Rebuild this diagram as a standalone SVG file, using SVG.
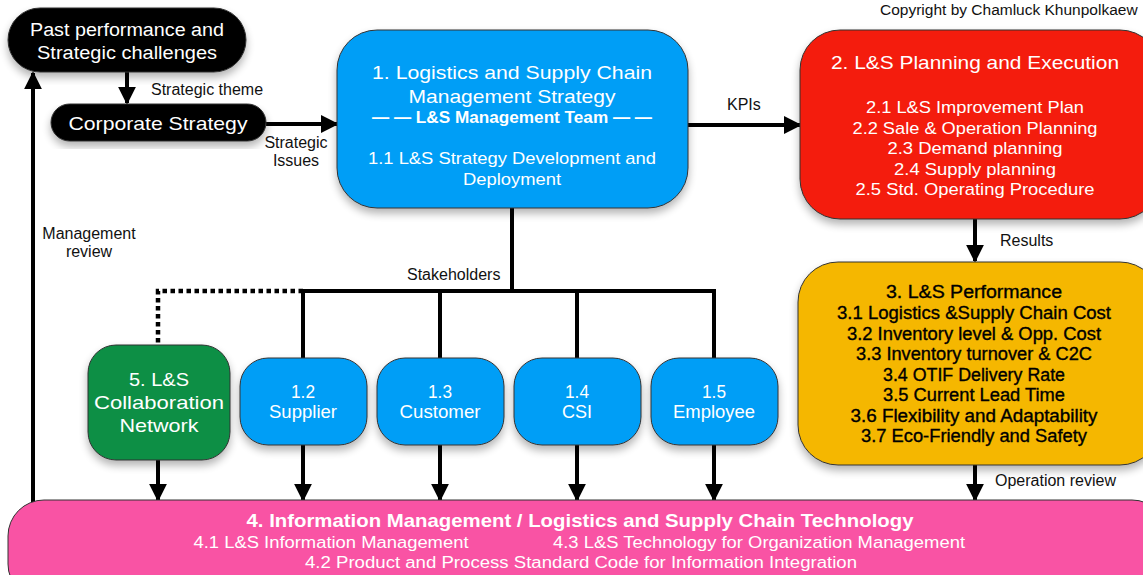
<svg xmlns="http://www.w3.org/2000/svg" width="1143" height="575" viewBox="0 0 1143 575">
<defs>
<filter id="sh" x="-10%" y="-10%" width="120%" height="130%">
<feGaussianBlur in="SourceAlpha" stdDeviation="4"/>
<feOffset dy="5"/>
<feComponentTransfer><feFuncA type="linear" slope="0.3"/></feComponentTransfer>
<feMerge><feMergeNode/><feMergeNode in="SourceGraphic"/></feMerge>
</filter>
<marker id="ah" viewBox="0 0 10 10" refX="9" refY="5" markerWidth="4.5" markerHeight="4.5" markerUnits="strokeWidth" orient="auto">
<path d="M0,0 L10,5 L0,10 Z" fill="#000"/>
</marker>
</defs>
<style>
text{font-family:"Liberation Sans",Arial,Helvetica,sans-serif;text-anchor:middle}
.w{fill:#fff}
.k{fill:#000;stroke:#000;stroke-width:0.35}
.lbl{font-size:16px;fill:#111;text-anchor:start}
.box{stroke:#333;stroke-width:1}
.ln{stroke:#000;stroke-width:4;fill:none}
.arr{stroke:#000;stroke-width:4;fill:none;marker-end:url(#ah)}
</style>
<rect width="1143" height="575" fill="#fff"/>
<text class="lbl" x="880" y="15" style="font-size:15.5px">Copyright by Chamluck Khunpolkaew</text>

<g id="connectors">
<line class="arr" x1="127" y1="72" x2="127" y2="103"/>
<line class="arr" x1="266" y1="124" x2="337" y2="124"/>
<line class="arr" x1="688" y1="125" x2="800" y2="125"/>
<line class="arr" x1="975" y1="219" x2="975" y2="261"/>
<line class="arr" x1="975" y1="465" x2="975" y2="500"/>
<line class="arr" x1="33" y1="502" x2="33" y2="73"/>
<polyline class="ln" points="512,208 512,291"/>
<polyline class="ln" points="301,291 716,291"/>
<polyline points="303,291 158,291 158,345" fill="none" stroke="#000" stroke-width="4.5" stroke-dasharray="4.5,3.5"/>
<line class="ln" x1="303" y1="291" x2="303" y2="358"/>
<line class="ln" x1="440" y1="291" x2="440" y2="358"/>
<line class="ln" x1="577" y1="291" x2="577" y2="358"/>
<line class="ln" x1="714" y1="291" x2="714" y2="358"/>
<line class="arr" x1="158" y1="460" x2="158" y2="500"/>
<line class="arr" x1="303" y1="445" x2="303" y2="500"/>
<line class="arr" x1="440" y1="445" x2="440" y2="500"/>
<line class="arr" x1="577" y1="445" x2="577" y2="500"/>
<line class="arr" x1="714" y1="445" x2="714" y2="500"/>
<text class="lbl" x="151" y="95">Strategic theme</text>
<text class="lbl" x="296" y="148" style="text-anchor:middle">Strategic</text>
<text class="lbl" x="296" y="166" style="text-anchor:middle">Issues</text>
<text class="lbl" x="727" y="110">KPIs</text>
<text class="lbl" x="1000" y="246">Results</text>
<text class="lbl" x="995" y="486">Operation review</text>
<text class="lbl" x="89" y="239" style="text-anchor:middle">Management</text>
<text class="lbl" x="89" y="257" style="text-anchor:middle">review</text>
<text class="lbl" x="407" y="280">Stakeholders</text>
</g>

<g id="past">
<rect class="box" x="8" y="8" width="238" height="64" rx="32" fill="#000" filter="url(#sh)"/>
<text class="w" x="127" y="36" font-size="18" textLength="194" lengthAdjust="spacingAndGlyphs">Past performance and</text>
<text class="w" x="127" y="59" font-size="18" textLength="180" lengthAdjust="spacingAndGlyphs">Strategic challenges</text>
</g>

<g id="corporate">
<rect class="box" x="51" y="104" width="215" height="37" rx="18.5" fill="#000" filter="url(#sh)"/>
<text class="w" x="158" y="130" font-size="19" textLength="179" lengthAdjust="spacingAndGlyphs">Corporate Strategy</text>
</g>

<g id="strategy">
<rect class="box" x="337" y="30" width="351" height="178" rx="40" fill="#059ef6" filter="url(#sh)"/>
<text class="w" x="512" y="79" font-size="19" textLength="280" lengthAdjust="spacingAndGlyphs">1. Logistics and Supply Chain</text>
<text class="w" x="512" y="103" font-size="19" textLength="207" lengthAdjust="spacingAndGlyphs">Management Strategy</text>
<text class="w" x="512" y="123" font-size="16" font-weight="bold" textLength="280" lengthAdjust="spacingAndGlyphs">— — L&amp;S Management Team — —</text>
<text class="w" x="512" y="164" font-size="17" textLength="288" lengthAdjust="spacingAndGlyphs">1.1 L&amp;S Strategy Development and</text>
<text class="w" x="512" y="185" font-size="17" textLength="98" lengthAdjust="spacingAndGlyphs">Deployment</text>
</g>

<g id="planning">
<rect class="box" x="800" y="30" width="360" height="189" rx="40" fill="#f41b07" filter="url(#sh)"/>
<text class="w" x="975" y="69" font-size="19" textLength="288" lengthAdjust="spacingAndGlyphs">2. L&amp;S Planning and Execution</text>
<text class="w" x="975" y="113" font-size="17" textLength="218" lengthAdjust="spacingAndGlyphs">2.1 L&amp;S Improvement Plan</text>
<text class="w" x="975" y="134" font-size="17" textLength="245" lengthAdjust="spacingAndGlyphs">2.2 Sale &amp; Operation Planning</text>
<text class="w" x="975" y="154" font-size="17" textLength="175" lengthAdjust="spacingAndGlyphs">2.3 Demand planning</text>
<text class="w" x="975" y="175" font-size="17" textLength="162" lengthAdjust="spacingAndGlyphs">2.4 Supply planning</text>
<text class="w" x="975" y="195" font-size="17" textLength="239" lengthAdjust="spacingAndGlyphs">2.5 Std. Operating Procedure</text>
</g>

<g id="performance">
<rect class="box" x="798" y="262" width="362" height="203" rx="40" fill="#f5b700" filter="url(#sh)"/>
<g class="k" font-size="17.5">
<text x="974" y="298" textLength="176" lengthAdjust="spacingAndGlyphs">3. L&amp;S Performance</text>
<text x="974" y="319" textLength="274" lengthAdjust="spacingAndGlyphs">3.1 Logistics &amp;Supply Chain Cost</text>
<text x="974" y="340" textLength="254" lengthAdjust="spacingAndGlyphs">3.2 Inventory level &amp; Opp. Cost</text>
<text x="974" y="360" textLength="236" lengthAdjust="spacingAndGlyphs">3.3 Inventory turnover &amp; C2C</text>
<text x="974" y="381" textLength="182" lengthAdjust="spacingAndGlyphs">3.4 OTIF Delivery Rate</text>
<text x="974" y="401" textLength="182" lengthAdjust="spacingAndGlyphs">3.5 Current Lead Time</text>
<text x="974" y="422" textLength="247" lengthAdjust="spacingAndGlyphs">3.6 Flexibility and Adaptability</text>
<text x="974" y="442" textLength="226" lengthAdjust="spacingAndGlyphs">3.7 Eco-Friendly and Safety</text>
</g>
</g>

<g id="collab">
<rect class="box" x="88" y="345" width="142" height="115" rx="28" fill="#078f45" filter="url(#sh)"/>
<text class="w" x="159" y="386" font-size="19" textLength="60" lengthAdjust="spacingAndGlyphs">5. L&amp;S</text>
<text class="w" x="159" y="409" font-size="19" textLength="130" lengthAdjust="spacingAndGlyphs">Collaboration</text>
<text class="w" x="159" y="432" font-size="19" textLength="79" lengthAdjust="spacingAndGlyphs">Network</text>
</g>

<g id="supplier">
<rect class="box" x="240" y="358" width="127" height="87" rx="28" fill="#059ef6" filter="url(#sh)"/>
<text class="w" x="303" y="398" font-size="17.5" textLength="24" lengthAdjust="spacingAndGlyphs">1.2</text>
<text class="w" x="303" y="418" font-size="17.5" textLength="68" lengthAdjust="spacingAndGlyphs">Supplier</text>
</g>
<g id="customer">
<rect class="box" x="377" y="358" width="127" height="87" rx="28" fill="#059ef6" filter="url(#sh)"/>
<text class="w" x="440" y="398" font-size="17.5" textLength="24" lengthAdjust="spacingAndGlyphs">1.3</text>
<text class="w" x="440" y="418" font-size="17.5" textLength="81" lengthAdjust="spacingAndGlyphs">Customer</text>
</g>
<g id="csi">
<rect class="box" x="514" y="358" width="127" height="87" rx="28" fill="#059ef6" filter="url(#sh)"/>
<text class="w" x="577" y="398" font-size="17.5" textLength="24" lengthAdjust="spacingAndGlyphs">1.4</text>
<text class="w" x="577" y="418" font-size="17.5" textLength="30" lengthAdjust="spacingAndGlyphs">CSI</text>
</g>
<g id="employee">
<rect class="box" x="651" y="358" width="127" height="87" rx="28" fill="#059ef6" filter="url(#sh)"/>
<text class="w" x="714" y="398" font-size="17.5" textLength="24" lengthAdjust="spacingAndGlyphs">1.5</text>
<text class="w" x="714" y="418" font-size="17.5" textLength="82" lengthAdjust="spacingAndGlyphs">Employee</text>
</g>

<g id="info">
<rect class="box" x="8" y="500" width="1160" height="100" rx="36" fill="#f953a4"/>
<text class="w" x="580" y="527" font-size="19" font-weight="bold" textLength="667" lengthAdjust="spacingAndGlyphs">4. Information Management / Logistics and Supply Chain Technology</text>
<text class="w" x="331" y="548" font-size="16" textLength="275" lengthAdjust="spacingAndGlyphs">4.1 L&amp;S Information Management</text>
<text class="w" x="759" y="548" font-size="16" textLength="412" lengthAdjust="spacingAndGlyphs">4.3 L&amp;S Technology for Organization Management</text>
<text class="w" x="581" y="568" font-size="16" textLength="552" lengthAdjust="spacingAndGlyphs">4.2 Product and Process Standard Code for Information Integration</text>
</g>
</svg>
